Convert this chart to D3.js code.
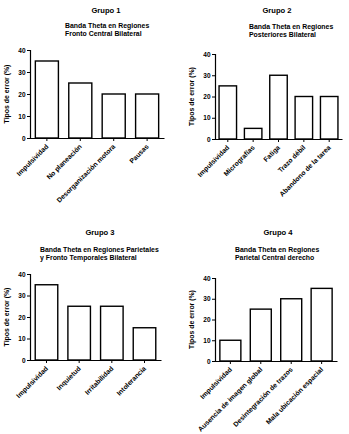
<!DOCTYPE html>
<html><head><meta charset="utf-8">
<script src="https://cdn.jsdelivr.net/npm/d3@7"></script>
<style>body{margin:0;background:#fff}svg{display:block}text{font-family:"Liberation Sans",Arial,sans-serif;font-weight:bold;fill:#000}</style>
</head><body><svg id="c" width="349" height="434"></svg>
<script>
const titles = ["Grupo 1","Grupo 2","Grupo 3","Grupo 4"];
const subtitles = [
  ["Banda Theta en Regiones","Fronto Central Bilateral"],
  ["Banda Theta en Regiones","Posteriores Bilateral"],
  ["Banda Theta en Regiones Parietales","y Fronto Temporales Bilateral"],
  ["Banda Theta en Regiones","Parietal Central derecho"]
];
const categories1 = ["Impulsividad","No planeación","Desorganización motora","Pausas"];
const values1 = [35,25,20,20];
const categories2 = ["Impulsividad","Micrografías","Fatiga","Trazo débil","Abandono de la tarea"];
const values2 = [25,5,30,20,20];
const categories3 = ["Impulsividad","Inquietud","Irritabilidad","Intolerancia"];
const values3 = [35,25,25,15];
const categories4 = ["Impulsividad","Ausencia de imagen global","Desintegración de trazos","Mala ubicación espacial"];
const values4 = [10,25,30,35];
const yTicks = [0,10,20,30,40];
const yLabel = "Tipos de error (%)";

const layout = [
  {x0:30,x1:164,yTop:50,yBot:138,tx:106,ty:13,sx:65,sy:28},
  {x0:215,x1:342,yTop:54,yBot:139,tx:277,ty:13,sx:249,sy:29},
  {x0:30,x1:161,yTop:274,yBot:360,tx:100,ty:235,sx:40,sy:252},
  {x0:215,x1:337,yTop:278,yBot:361,tx:278,ty:235,sx:235,sy:252}
];
const cats = [categories1,categories2,categories3,categories4];
const vals = [values1,values2,values3,values4];
const svg = d3.select("#c");

layout.forEach((L,i)=>{
  const g = svg.append("g");
  const x = d3.scaleBand().domain(cats[i]).range([L.x0,L.x1]).paddingInner(0.31).paddingOuter(0.16);
  const y = d3.scaleLinear().domain([0,40]).range([L.yBot,L.yTop]);
  g.append("text").attr("x",L.tx).attr("y",L.ty).attr("text-anchor","middle").style("font-size","7.6px").text(titles[i]);
  subtitles[i].forEach((s,j)=>g.append("text").attr("x",L.sx).attr("y",L.sy+j*7.8).style("font-size","6.9px").text(s));
  g.selectAll("rect").data(vals[i]).enter().append("rect")
    .attr("x",(d,k)=>x(cats[i][k])).attr("width",x.bandwidth())
    .attr("y",d=>y(d)).attr("height",d=>y(0)-y(d))
    .attr("fill","#fff").attr("stroke","#000").attr("stroke-width",1.4);
  const ya = g.append("g").attr("transform",`translate(${L.x0},0)`)
    .call(d3.axisLeft(y).tickValues(yTicks).tickSize(3).tickPadding(1.5));
  ya.select(".domain").attr("stroke-width",1.2);
  ya.selectAll("text").style("font-size","6.5px").style("font-family",null);
  const xa = g.append("g").attr("transform",`translate(0,${L.yBot})`)
    .call(d3.axisBottom(x).tickSize(3).tickSizeOuter(0));
  xa.select(".domain").attr("stroke-width",1.2);
  xa.selectAll("text").style("font-size","6.8px").style("font-family",null)
    .attr("text-anchor","end").attr("dy",null).attr("y",null)
    .attr("transform","translate(2,9) rotate(-45)");
  g.append("text").attr("transform",`translate(${L.x0-21},${(L.yTop+L.yBot)/2}) rotate(-90)`)
    .attr("text-anchor","middle").style("font-size","6.9px").text(yLabel);
});
</script></body></html>
